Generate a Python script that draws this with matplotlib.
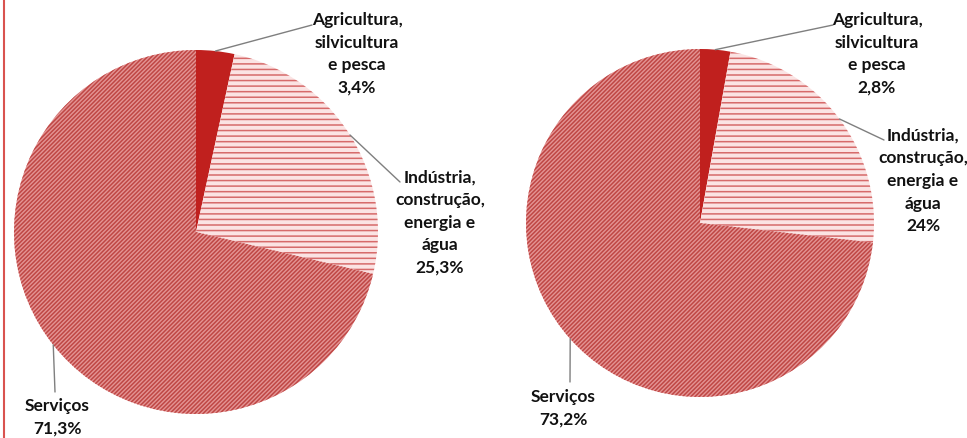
import numpy as np
import matplotlib
matplotlib.use('Agg')
import matplotlib.pyplot as plt
from matplotlib.lines import Line2D

# dados (%)
setores = ['Agricultura,\nsilvicultura\ne pesca', 'Indústria,\nconstrução,\nenergia e\nágua', 'Serviços']
valores_a = [3.4, 25.3, 71.3]
valores_b = [2.8, 24.0, 73.2]
rotulos_a = ['3,4%', '25,3%', '71,3%']
rotulos_b = ['2,8%', '24%', '73,2%']

plt.rcParams['font.family'] = ['Lato', 'DejaVu Sans']
plt.rcParams['hatch.linewidth'] = 1.1

W, H = 967, 438
fig = plt.figure(figsize=(W / 100, H / 100), dpi=100)

cores = ['#c0201e', '#fbe3e3', '#e49494']
hatches = [None, '---', '////////']
hatch_cor = ['#c0201e', '#d66a6a', '#bf4745']


def px_axes(cx, cy, r):
    # caixa do eixo em pixels (y medido a partir do topo)
    return [(cx - r) / W, (H - cy - r) / H, 2 * r / W, 2 * r / H]


def desenhar(cx, cy, r, valores, rotulos, pos_txt, pos_linha):
    ax = fig.add_axes(px_axes(cx, cy, r))
    wedges, _ = ax.pie(valores, startangle=90, counterclock=False,
                       colors=cores, radius=1,
                       wedgeprops=dict(linewidth=0))
    for w, h, hc in zip(wedges, hatches, hatch_cor):
        if h:
            w.set_hatch(h)
            w.set_edgecolor(hc)
            w.set_linewidth(0)
    ax.set_xlim(-1, 1)
    ax.set_ylim(-1, 1)
    ax.set_aspect('equal')
    ax.axis('off')

    acum = np.cumsum([0] + valores)
    for i, w in enumerate(wedges):
        ang = np.deg2rad(90 - (acum[i] + valores[i] / 2) * 3.6)
        xy = (np.cos(ang), np.sin(ang))
        lx, ly = pos_linha[i]
        ax.annotate('', xy=xy, xycoords='data',
                    xytext=(lx, H - ly), textcoords='figure pixels',
                    arrowprops=dict(arrowstyle='-', color='#7f7f7f', lw=1.0,
                                    shrinkA=0, shrinkB=0, patchA=None))
        tx, ty = pos_txt[i]
        fig.text(tx / W, 1 - ty / H, setores[i] + '\n' + rotulos[i],
                 ha='center', va='top', fontsize=12.5, fontweight='bold',
                 color='#111111', linespacing=1.5)


desenhar(196, 232, 182, valores_a, rotulos_a,
         pos_txt=[(357, 12), (440, 170), (57, 398)],
         pos_linha=[(312, 25), (400, 182), (55, 392)])
desenhar(700, 223, 174, valores_b, rotulos_b,
         pos_txt=[(877, 12), (923, 128), (563, 389)],
         pos_linha=[(833, 25), (884, 140), (570, 382)])

# linha vermelha na margem esquerda
fig.add_artist(Line2D([4 / W, 4 / W], [0, 1], color='#d9534f', lw=1.5))

fig.savefig('out.png', dpi=100)
